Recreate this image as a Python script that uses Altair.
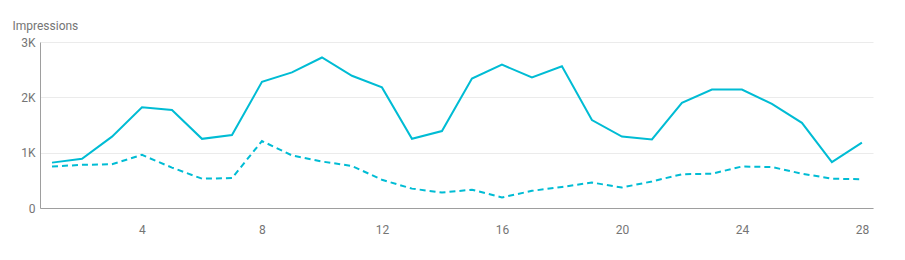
import altair as alt
import pandas as pd

days = list(range(1, 29))
current = [820, 890, 1290, 1820, 1770, 1250, 1320, 2280, 2450, 2720, 2390, 2180, 1250, 1390,
           2340, 2590, 2360, 2560, 1590, 1290, 1240, 1900, 2140, 2140, 1880, 1540, 830, 1180]
previous = [750, 780, 790, 960, 730, 530, 540, 1210, 950, 840, 760, 510, 350, 280,
            330, 190, 310, 380, 460, 370, 480, 610, 620, 750, 740, 620, 530, 520]
x_ticks = [4, 8, 12, 16, 20, 24, 28]
y_ticks = [0, 1000, 2000, 3000]

df = pd.DataFrame({
    "day": days * 2,
    "value": current + previous,
    "series": ["current"] * len(days) + ["previous"] * len(days),
})

FONT = "Roboto"
GRAY = "#757575"
CYAN = "#00BCD4"

x = alt.X("day:Q", scale=alt.Scale(domain=[0.6, 28.37], nice=False, zero=False),
          axis=alt.Axis(values=x_ticks, title=None, grid=False, ticks=False,
                        labelPadding=16, labelColor=GRAY, labelFont=FONT, labelFontSize=12,
                        domainColor="#9e9e9e", labelFlush=False))
y = alt.Y("value:Q", scale=alt.Scale(domain=[0, 3000], nice=False),
          axis=alt.Axis(values=y_ticks, title="Impressions", titleAngle=0, titleAlign="left",
                        titleBaseline="alphabetic", titleX=-28, titleY=-13,
                        titleColor=GRAY, titleFont=FONT, titleFontSize=12, titleFontWeight="normal",
                        ticks=False, labelPadding=5, labelColor=GRAY, labelFont=FONT, labelFontSize=12,
                        labelExpr="datum.value == 0 ? '0' : (datum.value / 1000) + 'K'",
                        gridColor="#ebebeb", domainColor="#9e9e9e"))

base = alt.Chart(df)
solid = base.transform_filter(alt.datum.series == "current").mark_line(
    color=CYAN, strokeWidth=2).encode(x=x, y=y)
dashed = base.transform_filter(alt.datum.series == "previous").mark_line(
    color=CYAN, strokeWidth=2, strokeDash=[6, 4]).encode(x=x, y=y)

chart = alt.layer(solid, dashed).properties(
    width=833, height=166,
    autosize=alt.AutoSizeParams(type="none"),
    padding={"left": 40, "top": 42, "right": 32, "bottom": 52},
).configure_view(stroke=None)

chart.save("out.html", embed_options={"renderer": "svg", "actions": False})
